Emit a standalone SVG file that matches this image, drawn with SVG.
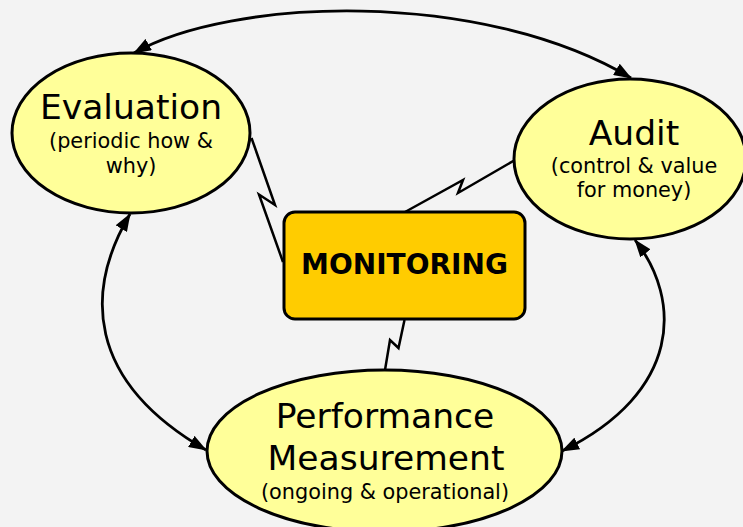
<svg xmlns="http://www.w3.org/2000/svg" width="743" height="527" viewBox="0 0 743 527">
  <style>
    .bubble { fill: #ffff99; stroke: #000; stroke-width: 3; }
    .core { fill: #ffcc00; stroke: #000; stroke-width: 3; }
    .title { font-family: "DejaVu Sans", Verdana, sans-serif; font-size: 34.5px; fill: #000; text-anchor: middle; }
    .sub { font-family: "DejaVu Sans", Verdana, sans-serif; font-size: 20.8px; fill: #000; text-anchor: middle; }
    .core-label { font-family: "DejaVu Sans", Verdana, sans-serif; font-size: 28px; font-weight: bold; fill: #000; text-anchor: middle; }
    .flow { fill: none; stroke: #000; stroke-width: 2.8; marker-start: url(#head); marker-end: url(#head); }
    .bolt { fill: none; stroke: #000; stroke-width: 2.5; stroke-linejoin: miter; }
  </style>
  <defs>
    <marker id="head" viewBox="0 0 18 13" refX="17" refY="6.5" markerWidth="18" markerHeight="13" markerUnits="userSpaceOnUse" orient="auto-start-reverse">
      <path d="M0,0 L18,6.5 L0,13 Z" fill="#000"/>
    </marker>
  </defs>

  <rect x="0" y="0" width="743" height="527" fill="#f3f3f3"/>

  <!-- connectors: curved two-way flows and zigzag links to the hub -->
  <g id="connectors">
    <path class="flow" d="M134,53 C230,-2 480,-12 631,78"/>
    <path class="flow" d="M130,214 C85,290 85,380 206,450"/>
    <path class="flow" d="M635,240 C682,300 682,392 562,451"/>
    <polyline class="bolt" points="251.5,138 275,205 259,194.5 283,262"/>
    <polyline class="bolt" points="515,160 458,193 463,180 405,212"/>
    <polyline class="bolt" points="404.5,320 398.5,348 390,340 385,370"/>
  </g>

  <g id="evaluation">
    <ellipse class="bubble" cx="131" cy="133" rx="119" ry="80"/>
    <text class="title" x="131" y="119">Evaluation</text>
    <text class="sub" x="131" y="148">(periodic how &amp;</text>
    <text class="sub" x="131" y="173">why)</text>
  </g>

  <g id="audit">
    <ellipse class="bubble" cx="630" cy="159" rx="116" ry="80"/>
    <text class="title" x="634" y="145">Audit</text>
    <text class="sub" x="634" y="173">(control &amp; value</text>
    <text class="sub" x="634" y="197">for money)</text>
  </g>

  <g id="monitoring">
    <rect class="core" x="284" y="212" width="241" height="107" rx="11" ry="11"/>
    <text class="core-label" x="404.5" y="274">MONITORING</text>
  </g>

  <g id="performance">
    <ellipse class="bubble" cx="384.5" cy="451" rx="177.5" ry="81"/>
    <text class="title" x="385" y="428">Performance</text>
    <text class="title" x="386" y="470">Measurement</text>
    <text class="sub" x="385" y="499">(ongoing &amp; operational)</text>
  </g>
</svg>
